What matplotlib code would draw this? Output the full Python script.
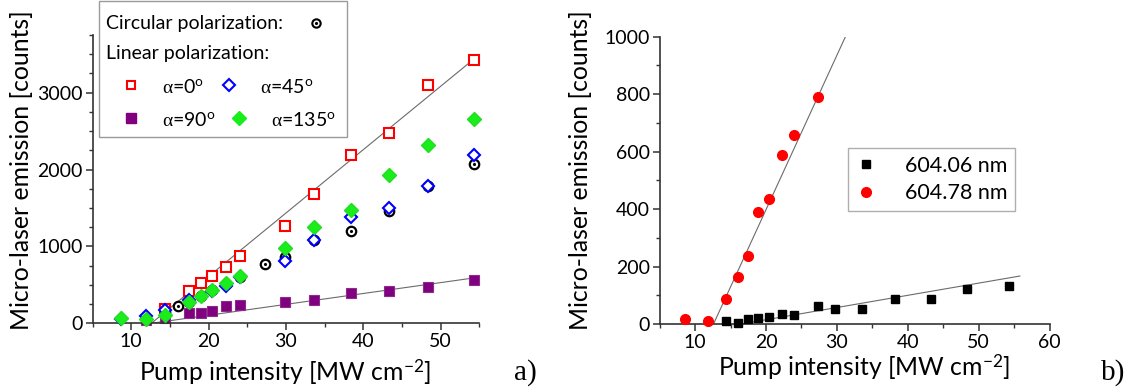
import matplotlib
matplotlib.use("Agg")
import matplotlib.pyplot as plt
from matplotlib.patches import Rectangle
from matplotlib.lines import Line2D
from matplotlib.ticker import MultipleLocator

plt.rcParams['font.family'] = ['Lato', 'DejaVu Sans']
plt.rcParams['mathtext.fontset'] = 'custom'
plt.rcParams['mathtext.rm'] = 'Lato'
plt.rcParams['mathtext.it'] = 'Liberation Serif'   # greek alpha in a serif face
plt.rcParams['mathtext.bf'] = 'Lato:bold'

# ---- panel a) data: pump intensity [MW cm-2] vs counts ----
x_circ = [11.9, 14.4, 16.0, 17.5, 19.0, 20.5, 22.3, 24.1, 27.3, 29.9, 33.6, 38.4, 43.3, 48.4, 54.3]
y_circ = [60, 150, 225, 280, 360, 430, 510, 600, 773, 868, 1085, 1198, 1459, 1789, 2067]

x_a0 = [14.4, 17.5, 19.0, 20.5, 22.3, 24.1, 29.9, 33.6, 38.4, 43.3, 48.4, 54.3]
y_a0 = [187, 417, 521, 617, 729, 877, 1272, 1680, 2188, 2471, 3100, 3422]

x_a45 = [8.7, 11.9, 14.4, 17.5, 20.5, 22.3, 24.1, 29.9, 33.6, 38.4, 43.3, 48.4, 54.3]
y_a45 = [50, 100, 174, 304, 425, 490, 600, 816, 1085, 1381, 1502, 1780, 2188]

x_a90 = [11.9, 14.4, 17.5, 19.0, 20.5, 22.3, 24.1, 29.9, 33.6, 38.4, 43.3, 48.4, 54.3]
y_a90 = [43, 69, 130, 130, 165, 221, 234, 282, 308, 395, 417, 478, 564]

x_a135 = [8.7, 11.9, 14.4, 17.5, 19.0, 20.5, 22.3, 24.1, 29.9, 33.6, 38.4, 43.3, 48.4, 54.3]
y_a135 = [69, 56, 113, 274, 360, 434, 521, 617, 981, 1250, 1476, 1932, 2314, 2662]

fit_a0_x = [12.6, 55.0]
fit_a0_y = [0, 3495]
fit_a90_x = [12.6, 55.0]
fit_a90_y = [0, 600]

# ---- panel b) data ----
x_604_06 = [14.3, 16.0, 17.4, 18.9, 20.4, 22.2, 24.0, 27.4, 29.8, 33.6, 38.2, 43.2, 48.4, 54.3]
y_604_06 = [12, 2, 19, 22, 26, 34, 32, 63, 51, 51, 86, 86, 122, 132]

x_604_78 = [8.55, 11.8, 14.3, 16.0, 17.4, 18.9, 20.4, 22.2, 24.0, 27.4]
y_604_78 = [16, 12, 87, 164, 238, 389, 435, 589, 658, 791]

fit_06_x = [16.5, 55.8]
fit_06_y = [0, 167]
fit_78_x = [12.6, 31.2]
fit_78_y = [0, 1000]

W, H = 1131, 392
fig = plt.figure(figsize=(W / 100, H / 100), dpi=100)


def fx(px):
    return px / W


def fy(py):
    return 1 - py / H


def style_axis(ax, xmaj, xmin, ymaj, ymin):
    for s in ['top', 'right']:
        ax.spines[s].set_visible(False)
    for s in ['left', 'bottom']:
        ax.spines[s].set_color('#333333')
        ax.spines[s].set_linewidth(1.2)
    ax.xaxis.set_major_locator(MultipleLocator(xmaj))
    ax.xaxis.set_minor_locator(MultipleLocator(xmin))
    ax.yaxis.set_major_locator(MultipleLocator(ymaj))
    ax.yaxis.set_minor_locator(MultipleLocator(ymin))
    ax.tick_params(which='major', direction='out', length=5, width=1.1,
                   color='#333333', labelsize=14, pad=2)
    ax.tick_params(which='minor', direction='out', length=3, width=1.0, color='#333333')


line_col = '#6b6b6b'
lab_fs = 17.8

# ---------------- panel a ----------------
axa = fig.add_axes([fx(92.6), fy(323.3), fx(479.3 - 92.6), (323.3 - 35) / H])
axa.set_xlim(5, 55)
axa.set_ylim(0, 3750)
style_axis(axa, 10, 5, 1000, 250)

axa.plot(fit_a0_x, fit_a0_y, color=line_col, lw=0.8, zorder=1)
axa.plot(fit_a90_x, fit_a90_y, color=line_col, lw=0.8, zorder=1)

axa.plot(x_a90, y_a90, 's', color='#800080', ms=6.8, mec='#8e2a8e', mew=0.8, clip_on=False, zorder=2)
axa.plot(x_a0, y_a0, 's', mfc='white', mec='red', ms=6.8, mew=1.5, clip_on=False, zorder=3)
axa.plot(x_circ, y_circ, 'o', mfc='white', mec='black', ms=6.8, mew=1.6, clip_on=False, zorder=3)
axa.plot(x_circ, y_circ, '.', color='black', ms=2.5, clip_on=False, zorder=3)
axa.plot(x_a45, y_a45, 'D', mfc='white', mec='blue', ms=6.3, mew=1.5, clip_on=False, zorder=4)
axa.plot(x_a135, y_a135, 'D', color='#1aee1a', mec='#22dd22', ms=7.2, clip_on=False, zorder=5)

# legend box for panel a (drawn in figure pixels)
fig.patches.append(Rectangle((fx(99.4), fy(137)), fx(346.7 - 99.4), (137 - 0.5) / H,
                             transform=fig.transFigure, fill=True, fc='white',
                             ec='#9a9a9a', lw=1.0, zorder=10))
leg_fs = 14
fig.text(fx(106), fy(24), 'Circular polarization:', fontsize=leg_fs, va='center', zorder=11)
fig.text(fx(106), fy(53.5), 'Linear polarization:', fontsize=leg_fs, va='center', zorder=11)
handles = [
    (316, 23.3, dict(marker='o', mfc='white', mec='black', ms=6, mew=1.5)),
    (316, 23.3, dict(marker='.', color='black', ms=2.5)),
    (131, 85, dict(marker='s', mfc='white', mec='red', ms=6, mew=1.5)),
    (229, 85, dict(marker='D', mfc='white', mec='blue', ms=6, mew=1.5)),
    (131, 118.3, dict(marker='s', color='#800080', ms=6.5)),
    (239.3, 118.3, dict(marker='D', color='#1aee1a', ms=7)),
]
for px, py, kw in handles:
    fig.add_artist(Line2D([fx(px)], [fy(py)], transform=fig.transFigure, linestyle='none', zorder=12, **kw))
fig.text(fx(161.7), fy(87), r'$\alpha$=0$^{\mathrm{o}}$', fontsize=leg_fs, va='center', zorder=11)
fig.text(fx(260), fy(87), r'$\alpha$=45$^{\mathrm{o}}$', fontsize=leg_fs, va='center', zorder=11)
fig.text(fx(161.7), fy(120), r'$\alpha$=90$^{\mathrm{o}}$', fontsize=leg_fs, va='center', zorder=11)
fig.text(fx(270.7), fy(120), r'$\alpha$=135$^{\mathrm{o}}$', fontsize=leg_fs, va='center', zorder=11)

fig.text(fx(21.5), fy(170), 'Micro-laser emission [counts]', fontsize=lab_fs, rotation=90,
         ha='center', va='center')
fig.text(fx(285.4), fy(372), r'Pump intensity [MW cm$^{-2}$]', fontsize=lab_fs,
         ha='center', va='center')
fig.text(fx(525), fy(373), 'a)', fontsize=21, family='Liberation Serif', ha='center', va='center')

# ---------------- panel b ----------------
axb = fig.add_axes([fx(659.6), fy(324), fx(1049.7 - 659.6), (324 - 36.7) / H])
axb.set_xlim(5, 60)
axb.set_ylim(0, 1000)
style_axis(axb, 10, 5, 200, 100)

axb.plot(fit_78_x, fit_78_y, color=line_col, lw=0.8, zorder=1)
axb.plot(fit_06_x, fit_06_y, color=line_col, lw=0.8, zorder=1)
axb.plot(x_604_06, y_604_06, 's', color='black', ms=6.3, clip_on=False, zorder=3, label='604.06 nm')
axb.plot(x_604_78, y_604_78, 'o', color='red', ms=7, clip_on=False, zorder=3, label='604.78 nm')

leg = axb.legend(loc='upper left', bbox_to_anchor=((848 - 659.6) / 390.1, (324 - 148.3) / 287.3),
                 fontsize=15.5, frameon=True, fancybox=False, edgecolor='#9a9a9a',
                 handlelength=1.0, handletextpad=1.3, borderpad=0.35, labelspacing=0.35,
                 borderaxespad=0)
leg.get_frame().set_linewidth(1.0)

fig.text(fx(580), fy(170), 'Micro-laser emission [counts]', fontsize=lab_fs, rotation=90,
         ha='center', va='center')
fig.text(fx(863.8), fy(367), r'Pump intensity [MW cm$^{-2}$]', fontsize=lab_fs,
         ha='center', va='center')
fig.text(fx(1113.6), fy(373), 'b)', fontsize=21, family='Liberation Serif', ha='center', va='center')

fig.savefig('out.png', dpi=100)
